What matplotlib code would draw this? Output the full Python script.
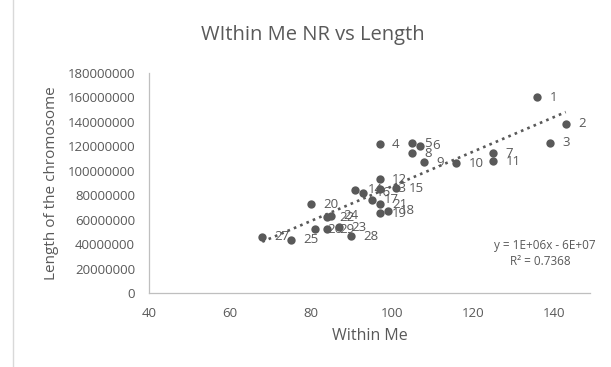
"""Within Me NR vs chromosome length scatter (Excel-style look)."""
import numpy as np
import matplotlib
matplotlib.use("Agg")
import matplotlib.pyplot as plt

plt.rcParams.update({
    "font.family": ["Open Sans", "DejaVu Sans"],
    "text.color": "#595959",
    "axes.labelcolor": "#595959",
    "xtick.color": "#595959",
    "ytick.color": "#595959",
})

GREY = "#595959"

chrom = ["1", "2", "3", "4", "5", "6", "7", "8", "9", "10", "11", "12", "13", "14", "15",
         "16", "17", "18", "19", "20", "21", "22", "23", "24", "25", "26", "27", "28", "29"]
within_me = [136, 143, 139, 97, 105, 107, 125, 105, 108, 116, 125, 97, 97, 91, 101,
             93, 95, 99, 97, 80, 97, 84, 87, 85, 75, 81, 68, 90, 84]
length = [160.1e6, 138.3e6, 123.0e6, 121.7e6, 122.5e6, 120.5e6, 114.3e6, 114.3e6, 106.9e6,
          106.1e6, 108.0e6, 92.9e6, 85.1e6, 84.3e6, 85.7e6, 82.2e6, 76.1e6, 67.1e6, 65.2e6,
          72.8e6, 72.6e6, 61.9e6, 53.8e6, 63.2e6, 43.4e6, 52.1e6, 46.1e6, 46.6e6, 52.1e6]

eq_text = "y = 1E+06x - 6E+07"
r2_text = "R² = 0.7368"

x = np.array(within_me, dtype=float)
y = np.array(length)

fig = plt.figure(figsize=(6.11, 3.67), dpi=100)
ax = fig.add_axes([0.2439, 0.2016, 0.7217, 0.5995])

# trendline (linear least squares, like Excel)
slope, icpt = np.polyfit(x, y, 1)
xt = np.array([x.min(), x.max()])
ax.plot(xt, slope * xt + icpt, color=GREY, linestyle=(0, (1, 1.6)), linewidth=1.9, zorder=2)

ax.scatter(x, y, s=36, color=GREY, zorder=3, linewidths=0)
for lab, xi, yi in zip(chrom, x, y):
    ax.annotate(lab, (xi, yi), xytext=(9, 0), textcoords="offset points",
                ha="left", va="center", fontsize=9.5, color=GREY, zorder=4)

ax.set_xlim(40, 149)
ax.set_ylim(0, 180000000)
ax.set_xticks(range(40, 141, 20))
ax.set_yticks(range(0, 180000001, 20000000))
ax.ticklabel_format(style="plain", axis="y", useOffset=False)
ax.tick_params(length=0, labelsize=9.5)
ax.tick_params(axis="y", pad=10)
ax.tick_params(axis="x", pad=10)

for s in ("top", "right"):
    ax.spines[s].set_visible(False)
for s in ("left", "bottom"):
    ax.spines[s].set_color("#bfbfbf")
    ax.spines[s].set_linewidth(0.9)

ax.set_xlabel("Within Me", fontsize=11.5, labelpad=6)
ax.set_ylabel("Length of the chromosome", fontsize=11, labelpad=6)
fig.text(0.512, 0.905, "WIthin Me NR vs Length", ha="center", va="center", fontsize=14.5)

ax.text(1.013, 0.218, eq_text, transform=ax.transAxes, ha="right", va="center", fontsize=8.5)
ax.text(0.955, 0.145, r2_text, transform=ax.transAxes, ha="right", va="center", fontsize=8.5)

# chart area border line on the left
fig.add_artist(plt.Line2D([13 / 611, 13 / 611], [0, 1], color="#d9d9d9", linewidth=1))

fig.savefig("out.png", dpi=100)
plt.close(fig)
